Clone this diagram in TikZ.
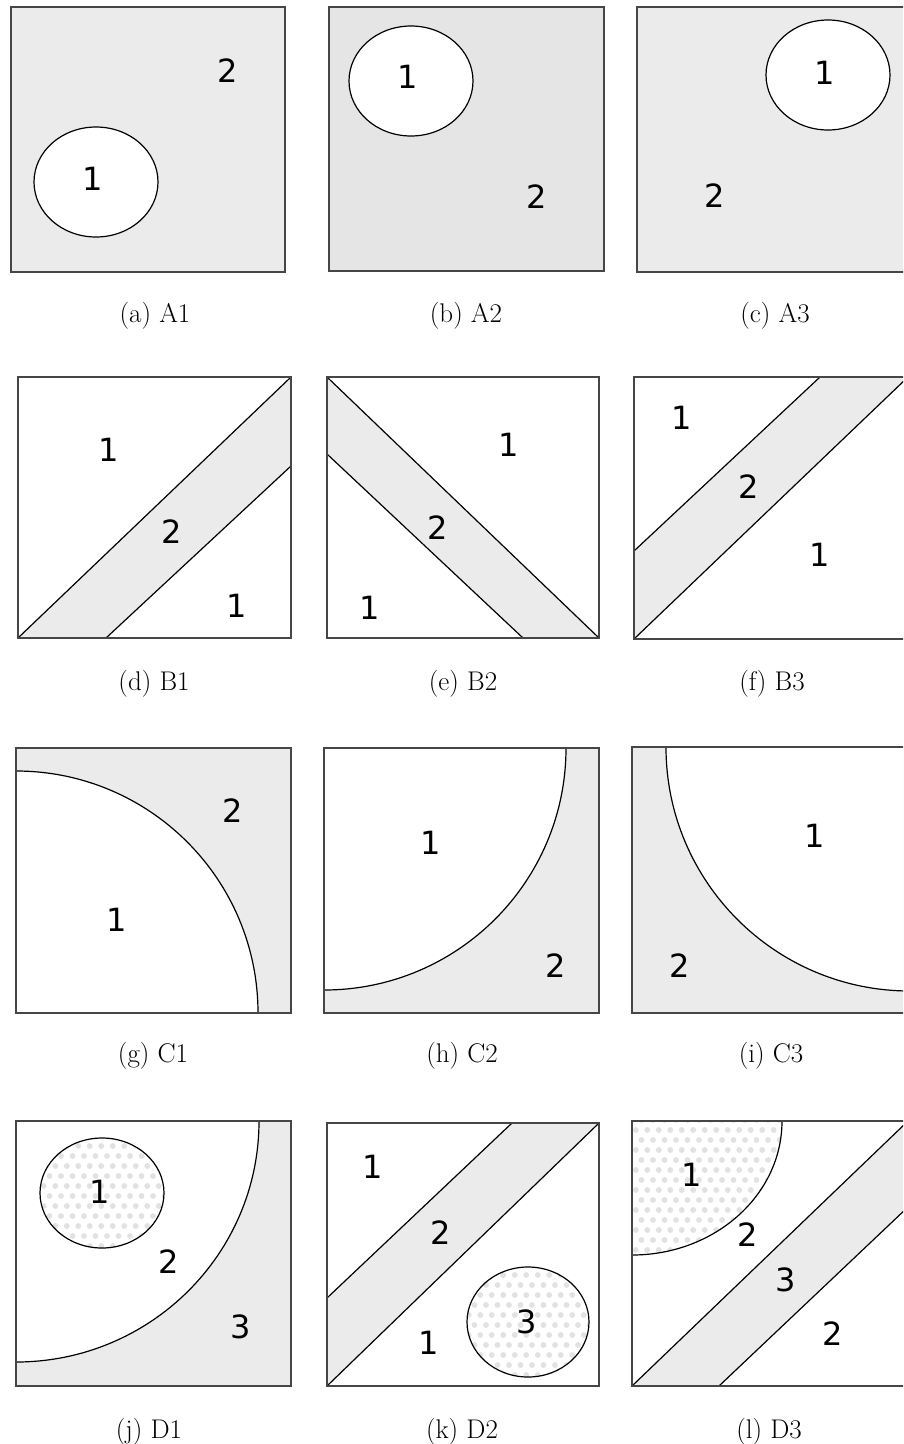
\documentclass[tikz,border=0pt]{standalone}
\usepackage{fontspec}
\newfontfamily\labfont{DejaVu Sans}
\definecolor{gfill}{RGB}{235,235,235}
\definecolor{gfillb}{RGB}{229,229,229}
\definecolor{dotc}{RGB}{226,226,226}
\definecolor{framec}{RGB}{70,70,70}
\newcommand\mydots[4]{\foreach \r in {0,...,#4}{\foreach \c in {0,...,#3}{\fill[dotc] ({#1+\c*11.5+mod(\r,2)*5.75},{#2+\r*10}) circle[radius=2.9];}}}
\begin{document}
\begin{tikzpicture}[x=1pt,y=-1pt,
  framebox/.style={draw=framec,line width=1.8pt},
  lineb/.style={draw=black,line width=1.2pt},
  lab/.style={font=\labfont\fontsize{32}{32}\selectfont,inner sep=0pt},
  captxt/.style={font=\fontsize{27}{27}\selectfont,anchor=base,inner sep=0pt}]
\useasboundingbox (0,0) rectangle (903,1444);
\clip (0,0) rectangle (903,1444);
\fill[white] (0,0) rectangle (903,1444);
% ---------- Row A ----------
% A1
\fill[gfill] (11,7) rectangle (285,272);
\draw[lineb,fill=white] (96,182) ellipse [x radius=62,y radius=55];
\draw[framebox] (11,7) rectangle (285,272);
\node[lab] (a1one) at (93,179) {1};
\node[lab] (a1two) at (228,71) {2};
\node[captxt] (capa) at (155,322) {(a)\ A1};
% A2
\fill[gfillb] (329,7) rectangle (604,271);
\draw[lineb,fill=white] (411,81) ellipse [x radius=62,y radius=55];
\draw[framebox] (329,7) rectangle (604,271);
\node[lab] (a2one) at (408,77) {1};
\node[lab] (a2two) at (537,197) {2};
\node[captxt] (capb) at (466,322) {(b)\ A2};
% A3
\fill[gfill] (637,7) rectangle (911,272);
\draw[lineb,fill=white] (828,75) ellipse [x radius=62,y radius=55];
\draw[framebox] (637,7) rectangle (911,272);
\node[lab] (a3one) at (825,73) {1};
\node[lab] (a3two) at (715,196) {2};
\node[captxt] (capc) at (775,322) {(c)\ A3};
% ---------- Row B ----------
% B1
\fill[gfill] (18,638) -- (291,377) -- (291,466) -- (106,638) -- cycle;
\draw[lineb] (18,638) -- (291,377);
\draw[lineb] (106,638) -- (291,466);
\draw[framebox] (18,377) rectangle (291,638);
\node[lab] (b1one) at (109,450) {1};
\node[lab] (b1two) at (172,532) {2};
\node[lab] (b1three) at (237,606) {1};
\node[captxt] (capd) at (154,690) {(d)\ B1};
% B2
\fill[gfill] (327,377) -- (599,638) -- (523,638) -- (327,454) -- cycle;
\draw[lineb] (327,377) -- (599,638);
\draw[lineb] (327,454) -- (523,638);
\draw[framebox] (327,377) rectangle (599,638);
\node[lab] (b2one) at (509,445) {1};
\node[lab] (b2two) at (438,528) {2};
\node[lab] (b2three) at (370,608) {1};
\node[captxt] (cape) at (463,690) {(e)\ B2};
% B3
\fill[gfill] (634,551) -- (820,377) -- (908,377) -- (634,639) -- cycle;
\draw[lineb] (634,551) -- (820,377);
\draw[lineb] (634,639) -- (908,377);
\draw[framebox] (634,377) rectangle (908,639);
\node[lab] (b3one) at (682,418) {1};
\node[lab] (b3two) at (749,487) {2};
\node[lab] (b3three) at (820,555) {1};
\node[captxt] (capf) at (772,690) {(f)\ B3};
% ---------- Row C ----------
% C1
\fill[gfill] (16,748) rectangle (291,1013);
\begin{scope}
  \clip (16,748) rectangle (291,1013);
  \draw[lineb,fill=white] (16,1013) circle [radius=242];
\end{scope}
\draw[framebox] (16,748) rectangle (291,1013);
\node[lab] (c1two) at (233,811) {2};
\node[lab] (c1one) at (117,920) {1};
\node[captxt] (capg) at (153,1062) {(g)\ C1};
% C2
\fill[gfill] (324,748) rectangle (599,1013);
\begin{scope}
  \clip (324,748) rectangle (599,1013);
  \draw[lineb,fill=white] (324,748) circle [radius=242];
\end{scope}
\draw[framebox] (324,748) rectangle (599,1013);
\node[lab] (c2one) at (431,843) {1};
\node[lab] (c2two) at (556,966) {2};
\node[captxt] (caph) at (462,1062) {(h)\ C2};
% C3
\fill[gfill] (632,747) rectangle (910,1013);
\begin{scope}
  \clip (632,747) rectangle (910,1013);
  \draw[lineb,fill=white] (910,747) circle [radius=244];
\end{scope}
\draw[framebox] (632,747) rectangle (910,1013);
\node[lab] (c3one) at (815,836) {1};
\node[lab] (c3two) at (680,966) {2};
\node[captxt] (capi) at (771,1062) {(i)\ C3};
% ---------- Row D ----------
% D1
\fill[gfill] (16,1121) rectangle (291,1386);
\begin{scope}
  \clip (16,1121) rectangle (291,1386);
  \draw[lineb,fill=white] (16,1121) ellipse [x radius=243,y radius=241];
\end{scope}
\begin{scope}
  \clip (102,1193) ellipse [x radius=62,y radius=55];
  \fill[white] (102,1193) ellipse [x radius=62,y radius=55];
  \mydots{38}{1136}{12}{13}
\end{scope}
\draw[lineb] (102,1193) ellipse [x radius=62,y radius=55];
\draw[framebox] (16,1121) rectangle (291,1386);
\node[lab] (d1one) at (100,1192) {1};
\node[lab] (d1two) at (169,1262) {2};
\node[lab] (d1three) at (241,1327) {3};
\node[captxt] (capj) at (149,1438) {(j)\ D1};
% D2
\fill[gfill] (327,1298) -- (512,1123) -- (599,1123) -- (327,1386) -- cycle;
\draw[lineb] (327,1298) -- (512,1123);
\draw[lineb] (327,1386) -- (599,1123);
\begin{scope}
  \clip (528,1322) ellipse [x radius=61,y radius=55];
  \fill[white] (528,1322) ellipse [x radius=61,y radius=55];
  \mydots{463}{1265}{12}{13}
\end{scope}
\draw[lineb] (528,1322) ellipse [x radius=61,y radius=55];
\draw[framebox] (327,1123) rectangle (599,1386);
\node[lab] (d2one) at (373,1167) {1};
\node[lab] (d2two) at (441,1233) {2};
\node[lab] (d2three) at (429,1343) {1};
\node[lab] (d2four) at (527,1322) {3};
\node[captxt] (capk) at (462,1438) {(k)\ D2};
% D3
\fill[gfill] (632,1386) -- (908,1121) -- (908,1207) -- (719,1386) -- cycle;
\draw[lineb] (632,1386) -- (908,1121);
\draw[lineb] (719,1386) -- (908,1207);
\begin{scope}
  \clip (632,1121) rectangle (908,1386);
  \clip (632,1121) ellipse [x radius=150,y radius=134];
  \mydots{630}{1120}{14}{15}
\end{scope}
\begin{scope}
  \clip (632,1121) rectangle (908,1386);
  \draw[lineb] (632,1121) ellipse [x radius=150,y radius=134];
\end{scope}
\draw[framebox] (632,1121) rectangle (908,1386);
\node[lab] (d3one) at (692,1175) {1};
\node[lab] (d3two) at (748,1235) {2};
\node[lab] (d3three) at (786,1280) {3};
\node[lab] (d3four) at (833,1334) {2};
\node[captxt] (capl) at (769,1438) {(l)\ D3};
\end{tikzpicture}
\end{document}
